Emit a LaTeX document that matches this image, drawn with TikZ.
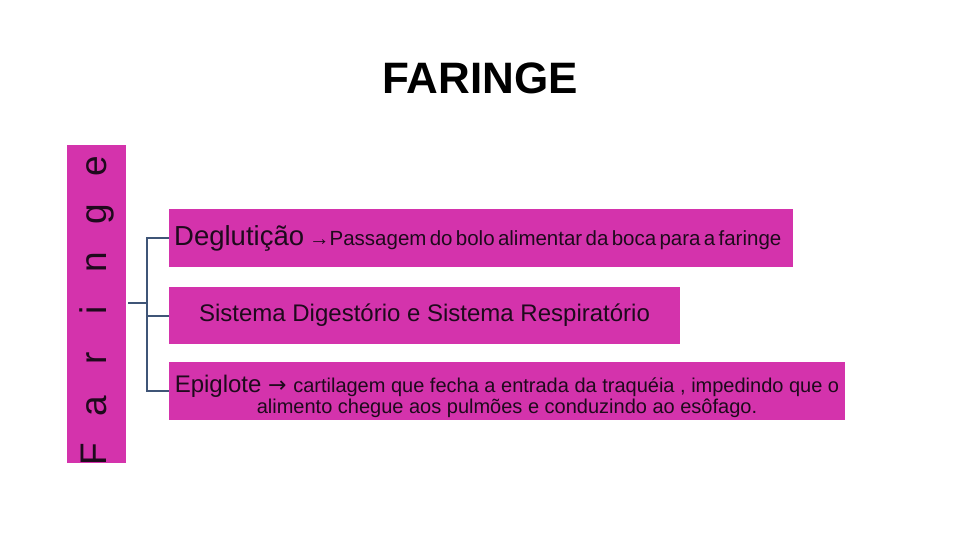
\documentclass[tikz,border=0pt]{standalone}
\usepackage{fontspec}
\setmainfont{Liberation Sans}
\newfontfamily\dvfont{DejaVu Sans}
\definecolor{mag}{HTML}{D433AC}
\definecolor{ink}{HTML}{1E0A1C}
\definecolor{brk}{HTML}{3F5577}
\newcommand{\lsp}[1]{\makebox[48pt]{#1}}
\begin{document}
\begin{tikzpicture}[x=1pt,y=-1pt,
  box/.style={fill=mag, draw=none, inner sep=0pt, text=ink, anchor=north west},
  br/.style={draw=brk, line width=2pt}]
\useasboundingbox (0,0) rectangle (960,540);
\fill[white] (0,0) rectangle (960,540);
% title
\node[font=\fontsize{44}{48}\selectfont\bfseries, text=black] (title) at (480,78) {FARINGE};
% vertical box
\node[box, minimum width=59pt, minimum height=318pt] (fbox) at (67,145) {};
\node[rotate=90, anchor=base, font=\fontsize{37}{40}\selectfont, text=ink, inner sep=0pt] (ftext) at (106,310)
  {\lsp{F}\lsp{a}\lsp{r}\lsp{i}\lsp{n}\lsp{g}\lsp{e}};
% boxes
\node[box, minimum width=624pt, minimum height=58pt, text width=614pt, align=left, inner xsep=5pt] (b1) at (169,209)
  {\fontsize{27.5}{30}\selectfont Deglutição\hspace{5pt}\fontsize{20.5}{24}\selectfont →Passagem do bolo alimentar da boca para a faringe};
\node[box, minimum width=511pt, minimum height=57pt, align=center, anchor=center] (b2) at (424.5,315.5)
  {\fontsize{24}{28}\selectfont Sistema Digestório e Sistema Respiratório};
\node[box, minimum width=676pt, minimum height=58pt, align=center, anchor=center] (b3) at (507,391)
  {\rule{0pt}{28pt}\fontsize{24}{18}\selectfont Epiglote {\dvfont\fontsize{22}{18}\selectfont →} \fontsize{20}{18}\selectfont cartilagem que fecha a entrada da traquéia , impedindo que o\\
   \fontsize{20}{18}\selectfont alimento chegue aos pulmões e conduzindo ao esôfago.};
% bracket
\coordinate (stem) at (128,303);
\coordinate (j) at (147,303);
\draw[br] (b1.west) -- ++(-22,0) |- (b3.west);
\draw[br] (b2.west) -- ++(-22,0);
\draw[br] (stem) -- (j);
\end{tikzpicture}
\end{document}
